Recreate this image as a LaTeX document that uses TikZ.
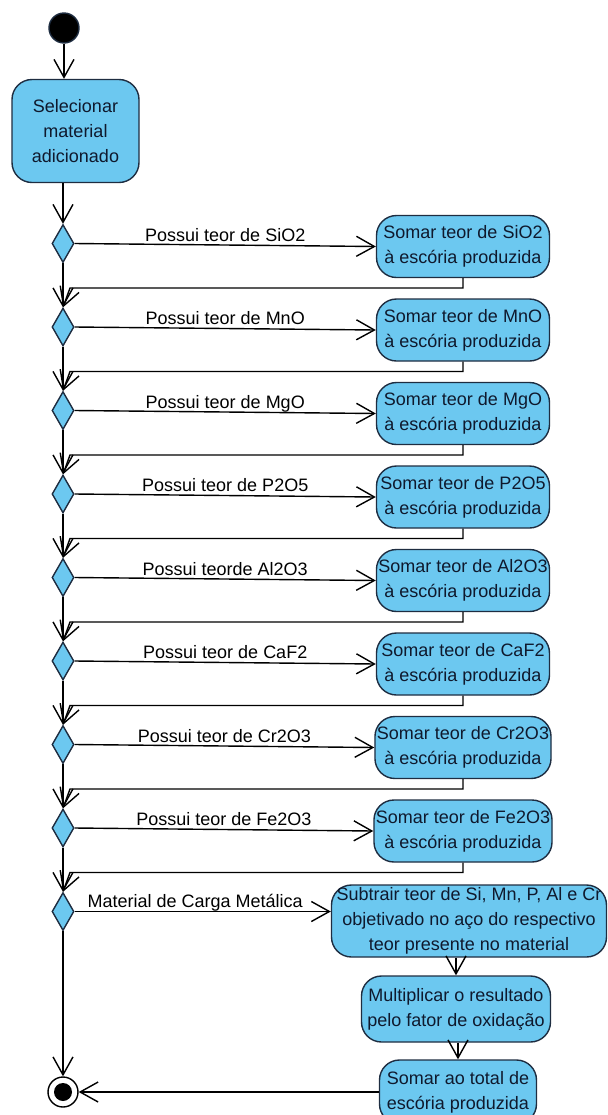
\documentclass[tikz,border=0pt]{standalone}
\usepackage{fontspec}
\setmainfont{Liberation Sans}
\usepackage{tikz}
\usetikzlibrary{shapes.geometric, arrows.meta}

\definecolor{actfill}{RGB}{108,200,240}
\definecolor{actline}{RGB}{30,45,65}
\definecolor{acttext}{RGB}{15,25,45}

\begin{document}
\begin{tikzpicture}[x=0.5pt, y=-0.5pt, line width=0.7pt,
    font=\fontsize{9}{12.5}\selectfont,
    >={Straight Barb[length=9pt, width=10pt]},
    flow/.style={->},
    action/.style={draw=actline, fill=actfill, text=acttext, rounded corners=10pt, align=center, inner sep=1pt, minimum width=86.5pt, minimum height=31pt},
    branch/.style={diamond, draw=actline, fill=actfill, minimum width=11pt, minimum height=19pt, inner sep=0pt},
    guard/.style={above, inner sep=1.5pt, text depth=0pt}]

    \useasboundingbox (0, 0) rectangle (607, 1115);

    % draw start and first action
    \node[circle, draw=actline, fill=black, minimum size=15pt, inner sep=0pt] (start) at (64, 28) {};
    \node[action, minimum width=63.5pt, minimum height=51.5pt] (sel) at (75.5, 131) {Selecionar\\material\\adicionado};

    % draw decision nodes
    \node[branch] (d1) at (63, 243.5) {};
    \node[branch] (d2) at (63, 327) {};
    \node[branch] (d3) at (63, 410.5) {};
    \node[branch] (d4) at (63, 494) {};
    \node[branch] (d5) at (63, 577.5) {};
    \node[branch] (d6) at (63, 661) {};
    \node[branch] (d7) at (63, 744.5) {};
    \node[branch] (d8) at (63, 828) {};
    \node[branch] (d9) at (63, 911.5) {};

    % draw actions for each oxide
    \node[action] (a1) at (463, 246.5) {Somar teor de SiO2\\à escória produzida};
    \node[action] (a2) at (463, 330) {Somar teor de MnO\\à escória produzida};
    \node[action] (a3) at (463, 413.5) {Somar teor de MgO\\à escória produzida};
    \node[action] (a4) at (463, 497) {Somar teor de P2O5\\à escória produzida};
    \node[action] (a5) at (463, 580.5) {Somar teor de Al2O3\\à escória produzida};
    \node[action] (a6) at (463, 664) {Somar teor de CaF2\\à escória produzida};
    \node[action] (a7) at (463, 747.5) {Somar teor de Cr2O3\\à escória produzida};
    \node[action] (a8) at (463, 831) {Somar teor de Fe2O3\\à escória produzida};

    % draw metallic charge actions
    \node[action, minimum width=137.5pt, minimum height=36pt] (m1) at (469, 921) {Subtrair teor de Si, Mn, P, Al e Cr\\objetivado no aço do respectivo\\teor presente no material};
    \node[action, minimum width=94.5pt, minimum height=33pt] (m2) at (456, 1009) {Multiplicar o resultado\\pelo fator de oxidação};
    \node[action, minimum width=78.5pt, minimum height=32pt] (m3) at (458, 1092) {Somar ao total de\\escória produzida};

    % draw end node
    \node[circle, draw=black, minimum size=15pt, inner sep=0pt] (stop) at (63, 1092) {};
    \fill (stop.center) circle (4.5pt);

    % return points
    \coordinate (r1) at (70, 288);
    \coordinate (r2) at (70, 371.5);
    \coordinate (r3) at (70, 455);
    \coordinate (r4) at (70, 538.5);
    \coordinate (r5) at (70, 622);
    \coordinate (r6) at (70, 705.5);
    \coordinate (r7) at (70, 789);
    \coordinate (r8) at (70, 872.5);

    % draw main flow
    \draw[flow] (start) -- (start |- sel.north);
    \draw[flow] (d1 |- sel.south) -- (d1.north);
    \draw[flow] (d1.south) -- (d2.north);
    \draw[flow] (d2.south) -- (d3.north);
    \draw[flow] (d3.south) -- (d4.north);
    \draw[flow] (d4.south) -- (d5.north);
    \draw[flow] (d5.south) -- (d6.north);
    \draw[flow] (d6.south) -- (d7.north);
    \draw[flow] (d7.south) -- (d8.north);
    \draw[flow] (d8.south) -- (d9.north);
    \draw[flow] (d9.south) -- (stop.north);

    % draw branches
    \draw[flow] (d1.east) -- (a1.west) node[guard, midway] (l1) {Possui teor de SiO2};
    \draw[flow] (d2.east) -- (a2.west) node[guard, midway] (l2) {Possui teor de MnO};
    \draw[flow] (d3.east) -- (a3.west) node[guard, midway] (l3) {Possui teor de MgO};
    \draw[flow] (d4.east) -- (a4.west) node[guard, midway] (l4) {Possui teor de P2O5};
    \draw[flow] (d5.east) -- (a5.west) node[guard, midway] (l5) {Possui teorde Al2O3};
    \draw[flow] (d6.east) -- (a6.west) node[guard, midway] (l6) {Possui teor de CaF2};
    \draw[flow] (d7.east) -- (a7.west) node[guard, midway] (l7) {Possui teor de Cr2O3};
    \draw[flow] (d8.east) -- (a8.west) node[guard, midway] (l8) {Possui teor de Fe2O3};
    \draw[flow] (d9.east) -- (d9.east -| m1.west) node[guard, pos=0.47] (l9) {Material de Carga Metálica};

    % draw returns
    \draw[flow] (a1.south) |- (r1) -- (d2.north);
    \draw[flow] (a2.south) |- (r2) -- (d3.north);
    \draw[flow] (a3.south) |- (r3) -- (d4.north);
    \draw[flow] (a4.south) |- (r4) -- (d5.north);
    \draw[flow] (a5.south) |- (r5) -- (d6.north);
    \draw[flow] (a6.south) |- (r6) -- (d7.north);
    \draw[flow] (a7.south) |- (r7) -- (d8.north);
    \draw[flow] (a8.south) |- (r8) -- (d9.north);

    % draw metallic charge flow
    \draw[flow] (m2.north |- m1.south) -- (m2.north);
    \draw[flow] (m3.north |- m2.south) -- (m3.north);
    \draw[flow] (m3.west) -- (stop.east);

\end{tikzpicture}
\end{document}
